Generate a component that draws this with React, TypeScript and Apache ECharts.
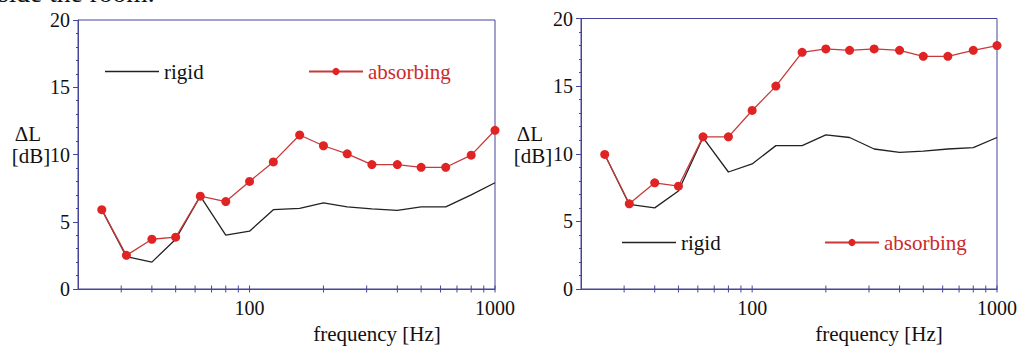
import React, { useEffect, useRef } from "react";
import * as echarts from "echarts";

const freqs = [25, 31.5, 40, 50, 63, 80, 100, 125, 160, 200, 250, 315, 400, 500, 630, 800, 1000];
const rigidLeft = [5.9, 2.4, 2.0, 3.7, 6.9, 4.0, 4.3, 5.9, 6.0, 6.4, 6.1, 5.95, 5.85, 6.1, 6.1, 7.0, 7.9];
const absorbingLeft = [5.9, 2.5, 3.7, 3.85, 6.9, 6.5, 8.0, 9.45, 11.45, 10.65, 10.05, 9.25, 9.25, 9.05, 9.05, 9.95, 11.8];
const rigidRight = [9.95, 6.25, 6.0, 7.25, 11.2, 8.65, 9.25, 10.6, 10.6, 11.4, 11.2, 10.35, 10.1, 10.2, 10.35, 10.45, 11.2];
const absorbingRight = [9.95, 6.3, 7.85, 7.6, 11.25, 11.25, 13.2, 15.0, 17.5, 17.75, 17.65, 17.75, 17.65, 17.2, 17.2, 17.65, 18.0];
const xTickFreqs = [30, 40, 50, 60, 70, 80, 90, 100, 200, 300, 400, 500, 600, 700, 800, 900, 1000];
const xLabelFreqs = [100, 1000];
const seriesNames = ["rigid", "absorbing"];
const yLabelLines = ["\u0394L", "[dB]"];
const xAxisName = "frequency [Hz]";
const topCaption = "side the room.";

const AXIS = "#45459a";
const RED = "#e02424";
const RED_TEXT = "#cc2a2a";
const FONT = "'Liberation Serif', 'Times New Roman', serif";

export default function App() {
  const ref = useRef<HTMLDivElement>(null);
  useEffect(() => {
    document.body.style.margin = "0";
    const chart = echarts.init(ref.current!, null, { renderer: "svg" });
    const grids = [
      { left: 78, top: 20, width: 417, height: 269 },
      { left: 581, top: 18.5, width: 416.5, height: 270.5 },
    ];
    const xAxes = grids.map((_, i) => ({
      type: "log",
      logBase: 10,
      gridIndex: i,
      min: 20,
      max: 1000,
      axisLine: { show: true, lineStyle: { color: AXIS, width: 1 } },
      axisTick: { show: false },
      splitLine: { show: false },
      axisLabel: {
        margin: 9,
        color: "#111",
        fontFamily: FONT,
        fontSize: 20,
        formatter: (v: number) => (xLabelFreqs.includes(Math.round(v)) ? String(Math.round(v)) : ""),
      },
    }));
    const yAxes = grids.map((_, i) => ({
      type: "value",
      gridIndex: i,
      min: 0,
      max: 20,
      interval: 5,
      axisLine: { show: true, lineStyle: { color: AXIS, width: 1 } },
      axisTick: { show: true, length: 5, lineStyle: { color: AXIS } },
      minorTick: { show: true, splitNumber: 5, length: 2, lineStyle: { color: AXIS } },
      splitLine: { show: false },
      axisLabel: { margin: 8, color: "#111", fontFamily: FONT, fontSize: 20 },
    }));
    const data = [
      [rigidLeft, absorbingLeft],
      [rigidRight, absorbingRight],
    ];
    const series: any[] = [];
    data.forEach((pair, i) => {
      series.push({
        type: "custom",
        xAxisIndex: i,
        yAxisIndex: i,
        silent: true,
        z: 5,
        data: xTickFreqs.map((f) => [f, 0]),
        renderItem: (_p: any, api: any) => {
          const p = api.coord([api.value(0), 0]);
          return {
            type: "line",
            shape: { x1: p[0], y1: p[1] - 3.5, x2: p[0], y2: p[1] + 3.5 },
            style: { stroke: AXIS, lineWidth: 1 },
          };
        },
      });
      series.push({
        name: seriesNames[0],
        type: "line",
        xAxisIndex: i,
        yAxisIndex: i,
        symbol: "none",
        lineStyle: { color: "#222", width: 1.3 },
        itemStyle: { color: "#222" },
        data: freqs.map((f, k) => [f, pair[0][k]]),
        z: 3,
      });
      series.push({
        name: seriesNames[1],
        type: "line",
        xAxisIndex: i,
        yAxisIndex: i,
        symbol: "circle",
        symbolSize: 9,
        lineStyle: { color: "#c83a3a", width: 1.3 },
        itemStyle: { color: RED },
        data: freqs.map((f, k) => [f, pair[1][k]]),
        z: 4,
      });
    });
    const legendItem = (name: string, left: number, top: number, color: string, plain: boolean) => ({
      left,
      top,
      itemWidth: 54,
      itemHeight: plain ? 1.4 : 9,
      itemGap: 6,
      selectedMode: false,
      data: [plain ? { name, icon: "rect", textStyle: { color } } : { name, textStyle: { color } }],
      textStyle: { fontFamily: FONT, fontSize: 21, color },
    });
    const legends = [
      legendItem(seriesNames[0], 100, 56, "#111", true),
      legendItem(seriesNames[1], 303, 56, RED_TEXT, false),
      legendItem(seriesNames[0], 617, 227, "#111", true),
      legendItem(seriesNames[1], 819, 227, RED_TEXT, false),
    ];
    const textEl = (text: string, x: number, y: number, size: number, align = "center") => ({
      type: "text",
      x,
      y,
      style: {
        text,
        font: `${size}px ${FONT}`,
        fill: "#111",
        textAlign: align,
        textVerticalAlign: "middle",
      },
    });
    const graphics = [
      textEl(topCaption, -2, -8, 27.5, "left"),
      textEl(yLabelLines[0], 28, 134, 21),
      textEl(yLabelLines[1], 31, 156, 21),
      textEl(yLabelLines[0], 530, 134, 21),
      textEl(yLabelLines[1], 533, 156, 21),
      textEl(xAxisName, 377, 334, 21),
      textEl(xAxisName, 879, 334, 21),
    ];
    chart.setOption({
      animation: false,
      backgroundColor: "#fff",
      grid: grids.map((g) => ({ ...g, show: true, borderColor: AXIS, borderWidth: 1, backgroundColor: "transparent" })),
      xAxis: xAxes,
      yAxis: yAxes,
      legend: legends,
      series,
      graphic: graphics,
    });
    return () => chart.dispose();
  }, []);
  return <div ref={ref} style={{ position: "absolute", left: 0, top: 0, width: 1020, height: 347 }} />;
}
